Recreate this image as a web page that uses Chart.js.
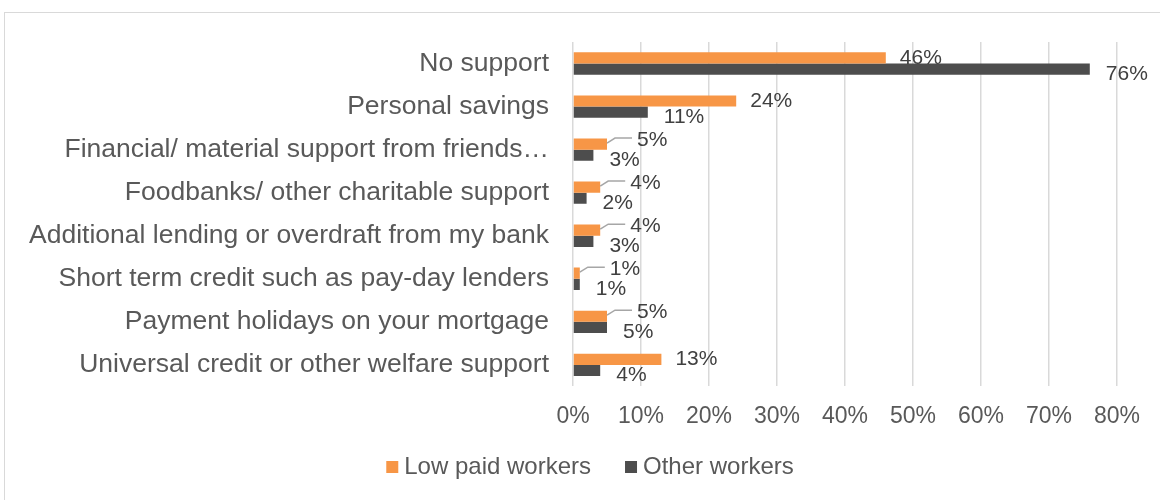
<!DOCTYPE html>
<html>
<head>
<meta charset="utf-8">
<script src="https://cdn.jsdelivr.net/npm/chart.js@4/dist/chart.umd.min.js"></script>
<style>
  html, body { margin: 0; padding: 0; background: #fff; }
  #wrap { position: relative; width: 1160px; height: 500px; }
  #frame { position: absolute; left: 4px; top: 12px; width: 1160px; height: 500px; border: 1px solid #d9d9d9; box-sizing: border-box; }
</style>
</head>
<body>
<div id="wrap">
  <div id="frame"></div>
  <canvas id="supportchart" width="1160" height="500"></canvas>
</div>
<script>
// categories top to bottom
const categories = [
  'No support',
  'Personal savings',
  'Financial/ material support from friends\u2026',
  'Foodbanks/ other charitable support',
  'Additional lending or overdraft from my bank',
  'Short term credit such as pay-day lenders',
  'Payment holidays on your mortgage',
  'Universal credit or other welfare support'
]
const lowPaid = [46, 24, 5, 4, 4, 1, 5, 13]
const otherWorkers = [76, 11, 3, 2, 3, 1, 5, 4]
const seriesNames = ['Low paid workers', 'Other workers']
const seriesColors = ['#F79646', '#4D4D4D']
const xMax = 80
const xStep = 10

const fontFam = '"Liberation Sans", Arial, sans-serif'
const textCol = '#595959'

// data labels, small orange values get a leader line like excel does
const labelPlugin = {
  id: 'barlabels',
  afterDatasetsDraw(chart) {
    const ctx = chart.ctx
    ctx.save()
    ctx.font = '21px ' + fontFam
    ctx.fillStyle = '#404040'
    ctx.textBaseline = 'middle'
    ctx.textAlign = 'left'
    chart.data.datasets.forEach((ds, di) => {
      const meta = chart.getDatasetMeta(di)
      meta.data.forEach((el, i) => {
        const v = ds.data[i]
        const txt = v + '%'
        const w = ctx.measureText(txt).width
        let tx, ty
        if (di == 0) {
          if (v >= 10) {
            tx = el.x + 14
            ty = el.y
          } else {
            tx = el.x + 30
            ty = el.y - 4
            ctx.strokeStyle = '#a6a6a6'
            ctx.lineWidth = 1.5
            ctx.beginPath()
            ctx.moveTo(el.x, el.y - 1)
            ctx.lineTo(el.x + 8, ty - 2)
            ctx.lineTo(tx - 5, ty - 2)
            ctx.stroke()
          }
        } else {
          tx = el.x + 16
          ty = el.y + 5
        }
        if (tx + w > 1148) tx = 1148 - w
        ctx.fillText(txt, tx, ty)
      })
    })
    ctx.restore()
  }
}

// legend drawn by hand so the spacing looks like the excel one
const legendPlugin = {
  id: 'xllegend',
  afterDraw(chart) {
    const ctx = chart.ctx
    ctx.save()
    ctx.font = '24px ' + fontFam
    ctx.textBaseline = 'middle'
    ctx.textAlign = 'left'
    const box = 12, gapText = 6, gapItem = 34
    let total = 0
    chart.data.datasets.forEach((ds, i) => {
      total += box + gapText + ctx.measureText(ds.label).width
      if (i > 0) total += gapItem
    })
    let x = 590 - total / 2
    const y = 467
    chart.data.datasets.forEach((ds) => {
      ctx.fillStyle = ds.backgroundColor
      ctx.fillRect(x, y - box / 2, box, box)
      x += box + gapText
      ctx.fillStyle = textCol
      ctx.fillText(ds.label, x, y)
      x += ctx.measureText(ds.label).width + gapItem
    })
    ctx.restore()
  }
}

const ctx = document.getElementById('supportchart')
const supportChart = new Chart(ctx, {
  type: 'bar',
  data: {
    labels: categories,
    datasets: [
      { label: seriesNames[0], data: lowPaid, backgroundColor: seriesColors[0] },
      { label: seriesNames[1], data: otherWorkers, backgroundColor: seriesColors[1] }
    ]
  },
  options: {
    indexAxis: 'y',
    responsive: false,
    animation: false,
    categoryPercentage: 0.52,
    barPercentage: 1,
    layout: { padding: { top: 42, right: 43, bottom: 54, left: 0 } },
    scales: {
      x: {
        min: 0,
        max: xMax,
        ticks: {
          stepSize: xStep,
          color: textCol,
          font: { family: fontFam, size: 23 },
          padding: 16,
          callback: (v) => v + '%'
        },
        grid: { color: '#d9d9d9', lineWidth: 1.5, drawTicks: false },
        border: { display: false }
      },
      y: {
        afterFit: (scale) => { scale.width = 573 },
        ticks: {
          color: textCol,
          font: { family: fontFam, size: 26.5 },
          padding: 24
        },
        grid: { display: false, drawTicks: false },
        border: { display: false }
      }
    },
    plugins: {
      legend: { display: false },
      tooltip: { enabled: false }
    }
  },
  plugins: [labelPlugin, legendPlugin]
})
</script>
</body>
</html>
